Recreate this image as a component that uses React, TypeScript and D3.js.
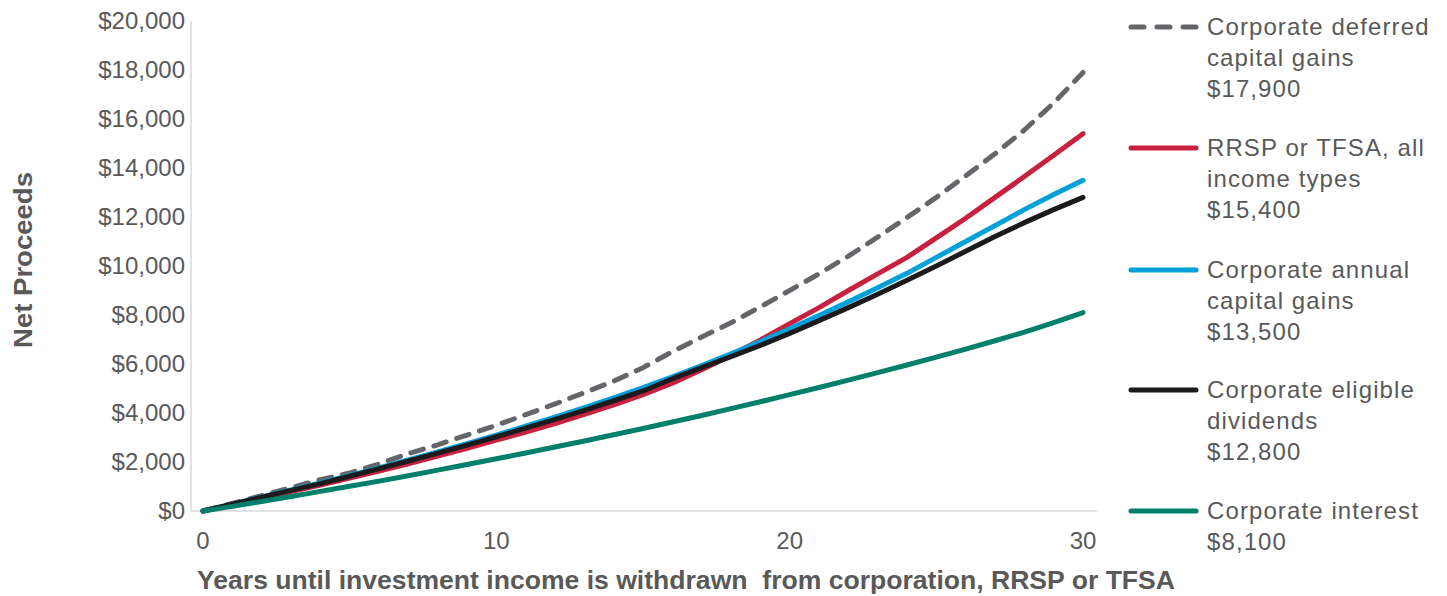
import React from "react";
import * as d3 from "d3";

const years: number[] = d3.range(0, 31);

const deferredCapGains = [0, 310, 630, 950, 1280, 1550, 1920, 2340, 2700, 3100, 3500, 3930, 4370, 4830, 5300, 5850, 6500, 7100, 7680, 8330, 9000, 9680, 10400, 11180, 11980, 12800, 13680, 14580, 15550, 16650, 17900];
const rrspTfsa = [0, 260, 520, 790, 1060, 1340, 1630, 1930, 2240, 2560, 2890, 3220, 3570, 3940, 4330, 4750, 5220, 5770, 6350, 6980, 7650, 8300, 9000, 9680, 10350, 11150, 11950, 12800, 13650, 14520, 15400];
const annualCapGains = [0, 280, 570, 860, 1150, 1450, 1760, 2080, 2410, 2750, 3100, 3460, 3830, 4220, 4620, 5040, 5480, 5940, 6420, 6920, 7440, 7980, 8540, 9110, 9700, 10350, 11000, 11650, 12300, 12920, 13500];
const eligibleDividends = [0, 280, 560, 840, 1120, 1420, 1730, 2040, 2360, 2690, 3030, 3380, 3740, 4110, 4500, 4900, 5400, 5850, 6300, 6760, 7250, 7770, 8300, 8850, 9420, 10000, 10600, 11200, 11770, 12300, 12800];
const corporateInterest = [0, 190, 390, 590, 800, 1010, 1220, 1440, 1670, 1900, 2130, 2370, 2610, 2860, 3110, 3370, 3630, 3900, 4180, 4460, 4750, 5040, 5340, 5650, 5960, 6280, 6610, 6950, 7300, 7690, 8100];

const seriesNames = [
  ["Corporate deferred", "capital gains", "$17,900"],
  ["RRSP or TFSA, all", "income types", "$15,400"],
  ["Corporate annual", "capital gains", "$13,500"],
  ["Corporate eligible", "dividends", "$12,800"],
  ["Corporate interest", "$8,100"],
];
const seriesValues = [deferredCapGains, rrspTfsa, annualCapGains, eligibleDividends, corporateInterest];
const seriesColors = ["#646669", "#C8203F", "#00A0DB", "#1B1B1D", "#00806A"];
const seriesDashed = [true, false, false, false, false];

const yTicks = [0, 2000, 4000, 6000, 8000, 10000, 12000, 14000, 16000, 18000, 20000];
const xTicks = [0, 10, 20, 30];

const xTitle = "Years until investment income is withdrawn\u00A0 from corporation, RRSP or TFSA";
const yTitle = "Net Proceeds";

export default function App() {
  const W = 1447, H = 596;
  const x = d3.scaleLinear().domain([0, 30]).range([203, 1083]);
  const y = d3.scaleLinear().domain([0, 20000]).range([511, 21]);
  const line = d3.line<number>().x((_, i) => x(years[i])).y((d) => y(d));
  const fmt = (v: number) => "$" + d3.format(",")(v);
  const font = "'Liberation Sans', Arial, sans-serif";
  const textColor = "#595959";
  const legendY = [27, 148, 270, 390, 511];

  return (
    <svg width={W} height={H} style={{ position: "absolute", left: 0, top: 0, background: "#fff" }} fontFamily={font}>
      <line x1={191} x2={191} y1={y(20000)} y2={y(0)} stroke="#d9d9d9" strokeWidth={1.5} />
      <line x1={191} x2={1097} y1={y(0)} y2={y(0)} stroke="#d9d9d9" strokeWidth={1.5} />
      {yTicks.map((t) => (
        <text key={t} x={185} y={y(t)} dy="0.35em" textAnchor="end" fontSize={24} fill={textColor}>
          {fmt(t)}
        </text>
      ))}
      {xTicks.map((t) => (
        <text key={t} x={x(t)} y={541} dy="0.35em" textAnchor="middle" fontSize={24} fill={textColor}>
          {t}
        </text>
      ))}
      <text x={197} y={580} dy="0.35em" fontSize={25} fontWeight="bold" fill={textColor} textLength={978} lengthAdjust="spacingAndGlyphs">
        {xTitle}
      </text>
      <text transform={`translate(23,${260}) rotate(-90)`} dy="0.35em" textAnchor="middle" fontSize={25} fontWeight="bold" fill={textColor} textLength={176} lengthAdjust="spacingAndGlyphs">
        {yTitle}
      </text>
      {seriesValues.map((vals, i) => (
        <path
          key={i}
          d={line(vals) || ""}
          fill="none"
          stroke={seriesColors[i]}
          strokeWidth={5}
          strokeLinecap="round"
          strokeLinejoin="round"
          strokeDasharray={seriesDashed[i] ? "13,11" : undefined}
        />
      ))}
      {seriesNames.map((lines, i) => (
        <g key={i}>
          <line
            x1={1131}
            x2={1196}
            y1={legendY[i]}
            y2={legendY[i]}
            stroke={seriesColors[i]}
            strokeWidth={5}
            strokeLinecap="round"
            strokeDasharray={seriesDashed[i] ? "13,13" : undefined}
          />
          {lines.map((s, j) => (
            <text key={j} x={1207} y={legendY[i] + j * 31} dy="0.35em" fontSize={24} fill={textColor} letterSpacing={1.1}>
              {s}
            </text>
          ))}
        </g>
      ))}
    </svg>
  );
}
